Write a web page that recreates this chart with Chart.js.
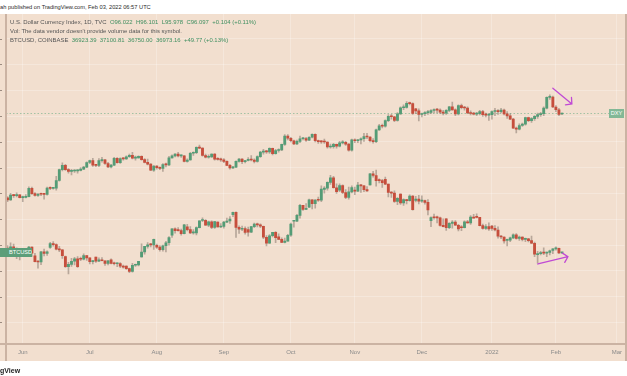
<!DOCTYPE html>
<html><head><meta charset="utf-8">
<script src="https://cdn.jsdelivr.net/npm/chart.js@4.4.1/dist/chart.umd.min.js"></script>
<style>
html,body{margin:0;padding:0;background:#fff;width:627px;height:376px;overflow:hidden;font-family:"Liberation Sans",Arial,sans-serif;}
#pub{position:absolute;left:0;top:3px;font-size:5.7px;line-height:8px;color:#2a2a2a;white-space:pre;}
#pane{position:absolute;left:0;top:14px;width:627px;height:347px;background:#f2dfcf;}
#c{position:absolute;left:0;top:0;}
.hdr{position:absolute;left:10px;font-size:5.95px;line-height:8px;color:#555;white-space:pre;}
.g{color:#3f8f60;}
#lline{position:absolute;left:5px;top:14px;width:2px;height:347px;background:#cbb3a3;}
#rline{position:absolute;left:625px;top:14px;width:2px;height:347px;background:#cbb3a3;}
#bline{position:absolute;left:0;top:343px;width:627px;height:2px;background:#cbb3a3;}
#foot{position:absolute;left:0;top:366px;font-size:7px;line-height:9px;font-weight:bold;color:#222;}
.tag{position:absolute;color:#fff;font-size:5.6px;line-height:9px;height:9px;white-space:pre;}
#btcTag{left:0;width:23px;padding-left:9px;background:#5c9e79;}
#dxyTag{left:609px;width:15px;text-align:center;background:#82b896;}
</style></head>
<body>
<div id="pub">ah published on TradingView.com, Feb 03, 2022 06:57 UTC</div>
<div id="pane"></div>
<canvas id="c" width="627" height="376"></canvas>
<div id="lline"></div><div id="rline"></div><div id="bline"></div>
<div class="hdr" style="top:18px">U.S. Dollar Currency Index, 1D, TVC  <span class="g">O96.022  H96.101  L95.978  C96.097  +0.104 (+0.11%)</span></div>
<div class="hdr" style="top:27px">Vol: The data vendor doesn't provide volume data for this symbol.</div>
<div class="hdr" style="top:35.5px">BTCUSD, COINBASE  <span class="g">36923.39  37100.81  36750.00  36973.16  +49.77 (+0.13%)</span></div>
<div id="btcTag" class="tag" style="top:248px">BTCUSD</div>
<div id="dxyTag" class="tag" style="top:109px">DXY</div>
<div id="foot">gView</div>
<script>
// ---- DATA (daily candles, weekdays from 2021-05-25 to 2022-02-03) ----
const firstDay = '2021-05-25';
const axisDays = 203; // weekday slots shown on the time axis (to early March 2022)

const dxyO = [89.81,89.66,90.01,89.98,90.03,89.83,89.85,89.91,90.52,90.13,90.00,90.09,90.08,90.07,90.54,90.52,90.53,91.10,91.90,92.23,91.90,91.77,91.80,91.81,91.85,91.94,92.09,92.43,92.58,92.23,92.22,92.57,92.63,92.36,92.11,92.24,92.74,92.42,92.72,92.70,92.86,92.96,92.76,92.78,92.89,92.65,92.44,92.31,91.87,92.17,92.05,92.00,92.28,92.26,92.78,92.92,93.05,92.92,92.93,92.52,92.62,93.12,93.16,93.56,93.50,92.95,92.82,92.85,93.06,92.67,92.66,92.63,92.52,92.22,92.03,92.09,92.51,92.68,92.50,92.58,92.67,92.62,92.51,92.87,93.20,93.27,93.22,93.48,93.08,93.32,93.36,93.77,94.38,94.23,94.04,93.81,94.00,94.19,94.21,94.09,94.30,94.52,94.05,93.97,93.96,93.95,93.58,93.60,93.77,93.64,93.89,93.92,93.79,93.35,94.12,94.04,94.10,94.19,94.36,94.32,94.05,93.97,94.85,95.15,95.12,95.53,95.85,95.82,95.55,96.03,96.49,96.52,96.82,96.79,96.40,96.25,95.99,96.04,96.13,96.15,96.28,96.34,96.31,96.16,96.09,96.29,96.55,96.33,96.03,96.64,96.50,96.47,96.10,96.06,96.02,96.05,96.20,95.97,95.94,95.97,96.21,96.27,96.20,96.31,96.03,95.88,95.64,94.98,94.90,95.17,95.27,95.75,95.53,95.68,95.85,95.98,96.04,96.46,97.25,97.27,96.54,96.34,96.022];
const dxyH = [89.90,90.15,90.08,90.19,90.05,89.95,90.05,90.63,90.61,90.21,90.13,90.17,90.15,90.62,90.63,90.60,91.41,91.95,92.40,92.30,91.98,91.92,91.90,91.90,92.05,92.15,92.48,92.62,92.74,92.30,92.73,92.82,92.66,92.45,92.30,92.82,92.80,92.78,92.80,92.92,93.05,93.19,92.90,92.92,92.92,92.72,92.68,92.36,92.20,92.20,92.12,92.35,92.38,92.88,93.00,93.10,93.18,93.00,92.95,92.70,93.18,93.23,93.59,93.73,93.52,93.05,93.00,93.08,93.10,92.80,92.76,92.72,92.55,92.30,92.15,92.55,92.75,92.72,92.60,92.80,92.95,92.70,92.92,93.25,93.40,93.33,93.52,93.50,93.40,93.45,93.80,94.50,94.50,94.30,94.10,94.10,94.38,94.30,94.30,94.35,94.56,94.55,94.10,94.05,94.17,93.96,93.80,93.85,93.80,94.00,94.05,94.00,93.83,94.16,94.18,94.15,94.25,94.60,94.60,94.35,94.20,94.90,95.26,95.27,95.60,95.98,96.00,95.85,96.13,96.55,96.70,96.94,96.90,96.85,96.45,96.40,96.10,96.20,96.30,96.35,96.40,96.45,96.40,96.30,96.35,96.60,96.90,96.40,96.70,96.75,96.60,96.55,96.25,96.15,96.15,96.30,96.30,96.10,96.05,96.25,96.45,96.35,96.45,96.38,96.20,96.05,95.70,95.05,95.30,95.35,95.80,95.80,95.75,95.90,96.10,96.15,96.55,97.30,97.44,97.35,96.65,96.45,96.101];
const dxyL = [89.53,89.62,89.84,89.89,89.80,89.53,89.80,89.88,90.06,89.93,89.92,89.97,89.72,90.02,90.42,90.45,90.39,91.05,91.80,91.85,91.65,91.52,91.70,91.65,91.80,91.90,92.05,92.35,92.15,92.12,92.12,92.45,92.29,92.05,92.03,92.19,92.38,92.37,92.60,92.66,92.80,92.70,92.60,92.75,92.60,92.40,92.26,91.82,91.78,91.93,91.90,91.78,92.10,92.20,92.75,92.85,92.85,92.80,92.48,92.45,92.60,92.95,93.08,93.45,92.90,92.78,92.75,92.80,92.60,92.60,92.52,92.42,92.20,91.94,91.98,92.05,92.45,92.35,92.40,92.55,92.55,92.40,92.45,92.80,93.05,93.10,93.10,93.00,93.05,93.20,93.30,93.70,94.10,93.95,93.75,93.75,93.90,94.10,94.00,94.05,94.25,93.95,93.85,93.85,93.85,93.50,93.50,93.50,93.50,93.58,93.80,93.70,93.28,93.27,93.90,93.90,93.80,94.00,94.20,93.95,93.87,93.90,94.80,95.00,95.05,95.45,95.65,95.45,95.50,96.00,96.35,96.45,96.70,96.00,96.05,95.52,95.80,95.90,96.00,96.05,96.10,96.10,96.05,95.95,96.00,96.20,96.30,95.90,95.95,96.40,96.30,96.05,95.95,95.95,95.90,95.95,95.85,95.80,95.55,95.65,95.90,96.00,96.10,95.95,95.70,95.60,94.95,94.63,94.85,95.10,95.20,95.45,95.40,95.55,95.70,95.85,95.90,96.40,97.10,96.50,96.20,95.90,95.978];
const dxyC = [89.66,90.01,89.98,90.03,89.83,89.85,89.91,90.52,90.13,90.00,90.09,90.08,90.07,90.54,90.52,90.53,91.10,91.90,92.23,91.90,91.77,91.80,91.81,91.85,91.94,92.09,92.43,92.58,92.23,92.22,92.57,92.63,92.36,92.11,92.24,92.74,92.42,92.72,92.70,92.86,92.96,92.76,92.78,92.89,92.65,92.44,92.31,91.87,92.17,92.05,92.00,92.28,92.26,92.78,92.92,93.05,92.92,92.93,92.52,92.62,93.12,93.16,93.56,93.50,92.95,92.82,92.85,93.06,92.67,92.66,92.63,92.52,92.22,92.03,92.09,92.51,92.68,92.50,92.58,92.67,92.62,92.51,92.87,93.20,93.27,93.22,93.48,93.08,93.32,93.36,93.77,94.38,94.23,94.04,93.81,94.00,94.19,94.21,94.09,94.30,94.52,94.05,93.97,93.96,93.95,93.58,93.60,93.77,93.64,93.89,93.92,93.79,93.35,94.12,94.04,94.10,94.19,94.36,94.32,94.05,93.97,94.85,95.15,95.12,95.53,95.85,95.82,95.55,96.03,96.49,96.52,96.82,96.79,96.07,96.25,95.99,96.04,96.13,96.15,96.28,96.34,96.31,96.16,96.09,96.29,96.55,96.33,96.03,96.64,96.50,96.47,96.10,96.06,96.02,96.05,96.20,95.97,95.94,95.97,96.21,96.27,96.20,96.31,96.03,95.88,95.64,94.98,94.90,95.17,95.27,95.75,95.53,95.68,95.85,95.98,96.04,96.46,97.25,97.27,96.54,96.34,95.99,96.097];

const btcO = [38800,38350,39250,38500,35650,37300,36690,37570,39190,35800,33560,33400,37400,36690,39100,40530,40160,38340,38090,35500,31620,32500,33690,34660,34700,34480,35900,35040,33540,35300,33730,34220,33880,32880,34240,32880,32720,32820,31780,31800,30840,29790,32140,32290,35400,37280,39460,40030,40020,39900,39150,38200,39720,40880,43800,46280,45600,45580,44430,47020,45940,44690,44700,46760,49500,49530,47680,48990,46860,48900,46990,47160,48850,49290,51800,52670,46860,46090,46400,46000,44960,47110,48140,47770,47250,43000,40700,43580,44900,43200,42200,41030,41520,43790,49200,49250,51500,55330,53800,54700,57480,56000,57370,57340,61500,62030,64280,66000,62200,61300,63080,60340,58450,60600,61300,60900,63220,62940,61450,63300,67550,66940,64950,64930,65500,63600,60370,60110,56900,59700,56300,57560,57200,58960,57300,57840,57000,57230,56500,49400,50600,50570,50500,47600,50100,46700,48380,48900,47650,46850,46700,48960,48600,50820,50800,50700,47540,46460,47130,47300,46450,45830,43430,43100,41800,41830,42740,43920,42590,43080,42210,42380,41680,40690,36280,36660,36960,36850,37140,37920,38480,38720,36923.39];
const btcH = [39800,40800,40400,38900,37500,37900,38200,39450,39280,36800,34000,37500,38400,37700,41000,41300,40500,39500,38200,35700,33300,34800,35250,35500,35300,36600,36000,35050,33950,35300,35000,35100,33900,34100,34650,33350,33100,33200,32250,31900,31050,32850,32600,33650,40500,39500,40900,40650,42300,40400,39750,39950,41400,43300,46400,46700,46750,46200,48000,48000,47150,46000,47000,49400,50500,49850,49250,49350,49150,48950,48300,49150,50400,51050,52800,52900,47400,47350,47050,46900,47250,48500,48500,48200,47350,43650,44000,44950,45200,44350,42800,42650,44100,48450,49500,51900,55750,55350,56100,57800,57650,57600,58550,62900,62650,64450,67000,66650,63700,63700,63300,61500,62450,62950,62450,64300,63550,63100,62600,67800,68550,69000,65600,65450,66300,63600,60750,60950,58400,59800,57850,57700,59400,59200,58900,59250,59100,57400,57600,50900,51950,51200,50800,50100,50200,48700,49500,49450,48000,47550,49350,49600,51400,51850,52050,50700,48150,47900,48550,47600,47500,47050,43750,43150,42250,43100,44300,44450,43450,43200,42700,42550,43500,41100,37500,37550,38900,37250,38000,38650,39250,38850,37100.81];
const btcL = [36400,37800,37200,34700,34200,35700,35950,37200,35600,33400,31000,32400,35800,35950,38700,39500,38100,37400,34800,31300,28800,31700,32300,31300,33900,34200,34000,32700,32700,33200,33550,33800,32100,32300,32700,32300,31600,31200,31050,30500,29300,29500,31700,31900,35300,36400,38800,39300,38300,38700,37600,37600,37300,39900,42900,44600,45400,43800,44250,45500,44400,44200,43900,46600,49000,47600,47100,46350,46400,46900,46700,46550,48650,48400,50950,42900,44500,45600,44200,43400,44750,46700,47050,46750,42500,39600,40600,43100,40900,42100,40900,40800,41450,43300,46950,49050,50400,53400,53650,54500,54000,54300,56850,56800,60100,61300,63500,62000,60000,60700,59850,58000,57800,60200,59500,60700,60400,60700,60750,63150,66300,62800,64100,62300,63400,58600,58400,56500,55600,55700,55300,55900,57000,53500,56700,55900,56500,55800,51700,47100,50050,48600,47300,47000,45700,46300,46550,47550,45500,45550,46650,48450,47950,50450,50500,47350,46100,46050,45700,45700,45500,42600,42450,40700,39650,41300,42500,42300,41750,41550,41250,41150,40550,35500,32950,36150,36250,35500,36200,36650,38000,36650,36750.00];
const btcC = [38350,39250,38500,35660,37300,36690,37570,39190,36850,33560,33400,37400,36690,37340,40530,40160,38340,38090,35820,31620,32500,33690,34660,31590,34480,35900,35040,33540,33830,33730,34220,33880,32880,33820,32880,32720,32820,31780,31400,30840,29790,32140,32290,33630,37280,39460,40030,40020,42220,39150,38200,39720,40880,42830,46280,45600,45580,44430,47830,45940,44690,44700,46760,49330,49530,47680,48990,46860,49080,46990,47160,48850,49290,50030,52670,46860,46090,46400,44850,44960,47110,48140,47770,47300,43000,40700,43580,44900,42840,42200,41030,41520,43790,48140,49250,51500,55330,53800,53930,57480,56000,57370,57340,61670,62030,64280,66000,62200,60690,63080,60340,58450,60600,62270,60900,63220,62940,61450,61010,67550,66940,64950,64930,64160,63600,60370,60110,56900,58100,56300,57560,57200,58960,53730,57840,57000,57230,56500,53600,50600,50570,50500,47600,47150,46700,48380,48900,47650,46200,46700,48960,48600,50820,50400,50700,47540,46460,47130,46200,46450,45830,43430,43100,41550,41830,42740,43920,42590,43090,42210,42380,41680,40690,36470,36660,36960,36850,37140,37720,38480,38720,36950,36973.16];

// price ranges of the two (cut-off) price scales
const btcRange = [1628, 129536];
const dxyRange = [78.99, 103.43];
const btcGridStep = 10000;

// annotation arrows, in (bar index, price) coordinates
const arrows = [
  {axis:'yDxy', from:[179.0, 97.93], to:[185.25, 96.77]},
  {axis:'yBtc', from:[174.1, 32640], to:[183.95, 35465]}
];

// ---- build ----
const dates = [];
(function(){
  const d = new Date(firstDay + 'T00:00:00Z');
  while (dates.length < axisDays) {
    const wd = d.getUTCDay();
    if (wd !== 0 && wd !== 6) dates.push(d.toISOString().slice(0,10));
    d.setUTCDate(d.getUTCDate() + 1);
  }
})();
const monthNames = ['2022','Feb','Mar','Apr','May','Jun','Jul','Aug','Sep','Oct','Nov','Dec'];
function isMonthStart(i){ return i > 0 && dates[i].slice(5,7) !== dates[i-1].slice(5,7); }

const GREEN = '#549c76', RED = '#c64e3c', WICK = 'rgba(125,112,102,0.5)';
function bodies(O, C){ return O.map((o,i)=>[o, C[i]]); }
function wicks(L, H){ return L.map((l,i)=>[l, H[i]]); }
function colors(O, C){ return O.map((o,i)=> C[i] >= o ? GREEN : RED); }

const overlay = {
  id:'overlay',
  beforeDatasetsDraw(chart){
    const {ctx, chartArea:a, scales} = chart;
    const y = Math.round(scales.yDxy.getPixelForValue(dxyC[dxyC.length-1])) + 0.5;
    ctx.save();
    ctx.strokeStyle = 'rgba(110,175,135,0.6)';
    ctx.setLineDash([1.5,2]);
    ctx.lineWidth = 1;
    ctx.beginPath(); ctx.moveTo(a.left, y); ctx.lineTo(609, y); ctx.stroke();
    ctx.restore();
  },
  afterDatasetsDraw(chart){
    const {ctx, scales} = chart;
    ctx.save();
    ctx.strokeStyle = '#c04ad4';
    ctx.lineWidth = 1.3;
    ctx.lineCap = 'round';
    arrows.forEach(ar => {
      const sx = scales.x.getPixelForValue(ar.from[0]), sy = scales[ar.axis].getPixelForValue(ar.from[1]);
      const ex = scales.x.getPixelForValue(ar.to[0]), ey = scales[ar.axis].getPixelForValue(ar.to[1]);
      const ang = Math.atan2(ey - sy, ex - sx);
      const L = 6.5, spread = 0.82;
      ctx.beginPath();
      ctx.moveTo(sx, sy); ctx.lineTo(ex, ey);
      ctx.moveTo(ex + L*Math.cos(ang + Math.PI - spread), ey + L*Math.sin(ang + Math.PI - spread));
      ctx.lineTo(ex, ey);
      ctx.lineTo(ex + L*Math.cos(ang + Math.PI + spread), ey + L*Math.sin(ang + Math.PI + spread));
      ctx.stroke();
    });
    // left price-scale tick stubs
    ctx.fillStyle = '#9b8b80';
    for (let v = btcGridStep; v < btcRange[1]; v += btcGridStep) {
      const y = Math.round(scales.yBtc.getPixelForValue(v));
      ctx.fillRect(0, y, 2, 1);
    }
    ctx.restore();
    document.getElementById('dxyTag').style.top = (scales.yDxy.getPixelForValue(dxyC[dxyC.length-1]) - 4.5) + 'px';
    document.getElementById('btcTag').style.top = (scales.yBtc.getPixelForValue(btcC[btcC.length-1]) - 4.5) + 'px';
  }
};

const common = {grouped:false, minBarLength:1, borderWidth:0};
new Chart(document.getElementById('c'), {
  type:'bar',
  data:{
    labels: dates,
    datasets:[
      Object.assign({label:'DXY', data:bodies(dxyO,dxyC), yAxisID:'yDxy', backgroundColor:colors(dxyO,dxyC), barThickness:2.2, order:0}, common),
      Object.assign({label:'BTCUSD', data:bodies(btcO,btcC), yAxisID:'yBtc', backgroundColor:colors(btcO,btcC), barThickness:2.2, order:0}, common),
      Object.assign({label:'DXY range', data:wicks(dxyL,dxyH), yAxisID:'yDxy', backgroundColor:WICK, barThickness:1, order:1}, common),
      Object.assign({label:'BTCUSD range', data:wicks(btcL,btcH), yAxisID:'yBtc', backgroundColor:WICK, barThickness:1, order:1}, common)
    ]
  },
  options:{
    responsive:false, animation:false, devicePixelRatio:1,
    layout:{padding:{left:0, right:1, top:14, bottom:14}},
    plugins:{legend:{display:false}, tooltip:{enabled:false}},
    scales:{
      x:{
        type:'category', offset:true,
        grid:{offset:false, color:'rgba(255,255,255,0.25)', drawTicks:false},
        border:{display:false},
        afterBuildTicks(s){ s.ticks = s.ticks.filter(t => isMonthStart(t.value)); },
        afterFit(s){ s.height = 18; },
        ticks:{autoSkip:false, maxRotation:0, padding:5, color:'#8a8a8a', font:{size:6, family:'"Liberation Sans", Arial, sans-serif'},
          callback(v){ return monthNames[parseInt(dates[v].slice(5,7),10)-1]; }}
      },
      yBtc:{
        position:'left', min:btcRange[0], max:btcRange[1],
        afterBuildTicks(s){ const t=[]; for(let v=btcGridStep; v<btcRange[1]; v+=btcGridStep) t.push({value:v}); s.ticks=t; },
        afterFit(s){ s.width = 6; },
        grid:{color:'rgba(255,255,255,0.25)', drawTicks:false},
        border:{display:false},
        ticks:{display:false}
      },
      yDxy:{position:'right', display:false, min:dxyRange[0], max:dxyRange[1]}
    }
  },
  plugins:[overlay]
});
</script>
</body></html>
